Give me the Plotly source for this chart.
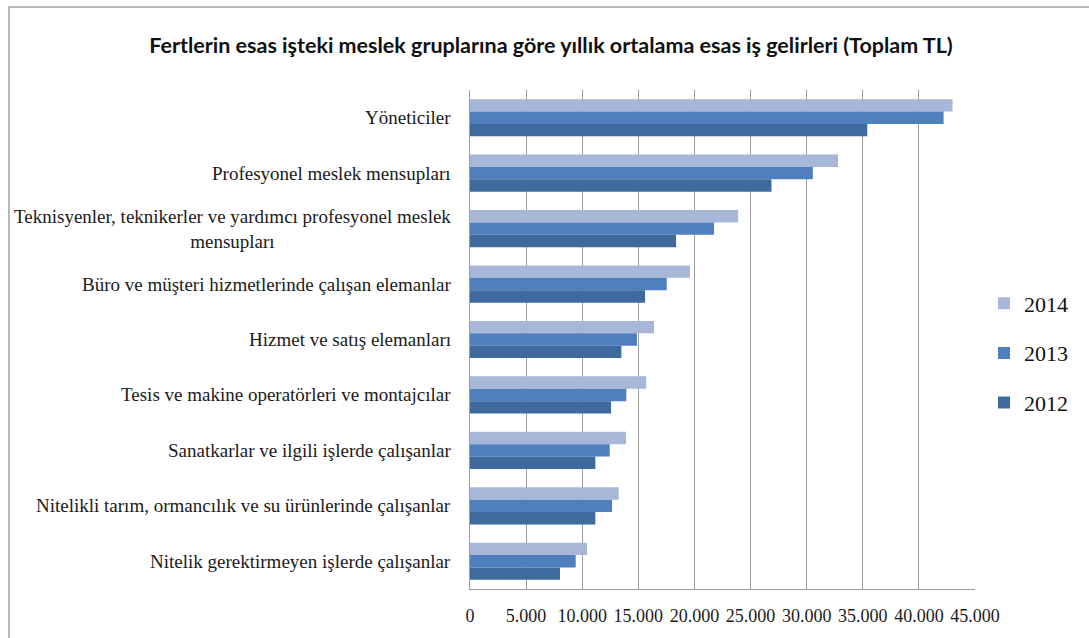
import plotly.graph_objects as go

categories = [
    "Yöneticiler",
    "Profesyonel meslek mensupları",
    "Teknisyenler, teknikerler ve yardımcı profesyonel meslek<br>mensupları",
    "Büro ve müşteri hizmetlerinde çalışan elemanlar",
    "Hizmet ve satış elemanları",
    "Tesis ve makine operatörleri ve montajcılar",
    "Sanatkarlar ve ilgili işlerde çalışanlar",
    "Nitelikli tarım, ormancılık ve su ürünlerinde çalışanlar",
    "Nitelik gerektirmeyen işlerde çalışanlar",
]
cat_keys = ["c%d" % i for i in range(len(categories))]

years = ["2014", "2013", "2012"]
values_2014 = [43000, 32800, 23900, 19600, 16400, 15700, 13900, 13250, 10430]
values_2013 = [42200, 30550, 21750, 17530, 14880, 13930, 12450, 12660, 9420]
values_2012 = [35400, 26860, 18360, 15600, 13490, 12570, 11170, 11170, 8020]
series = [values_2014, values_2013, values_2012]
colors = ["#A7B7D7", "#4F7FBD", "#3F6A9E"]

tick_vals = [0, 5000, 10000, 15000, 20000, 25000, 30000, 35000, 40000, 45000]
tick_text = ["0", "5.000", "10.000", "15.000", "20.000", "25.000", "30.000", "35.000", "40.000", "45.000"]

title_text = "Fertlerin esas işteki meslek gruplarına göre yıllık ortalama esas iş gelirleri (Toplam TL)"

W, H = 1089, 638
L, R, T, B = 470, 114, 90, 49
pw, ph = W - L - R, H - T - B

fig = go.Figure()
for name, vals, col in zip(years, series, colors):
    fig.add_trace(go.Bar(
        x=vals, y=cat_keys, orientation="h", name=name,
        marker=dict(color=col, line=dict(width=0)),
        legendgroup=name,
    ))

serif = "Liberation Serif, Times New Roman, serif"

annotations = []
for key, lab in zip(cat_keys, categories):
    annotations.append(dict(
        x=(453 - L) / pw, xref="paper", y=key, yref="y",
        text=lab, showarrow=False, xanchor="right", yanchor="middle",
        align="center", font=dict(family=serif, size=19, color="#1a1a1a"),
    ))

fig.update_layout(
    width=W, height=H,
    margin=dict(l=L, r=R, t=T, b=B),
    paper_bgcolor="white", plot_bgcolor="white",
    barmode="group", bargap=0.33, bargroupgap=0,
    title=dict(text="<b>" + title_text + "</b>", x=551 / W, xanchor="center",
               y=1 - 45 / H, yanchor="middle",
               font=dict(family="Lato, Carlito, Calibri, sans-serif", size=21.5, color="#111")),
    xaxis=dict(range=[0, 45000], tickvals=tick_vals, ticktext=tick_text,
               showgrid=True, gridcolor="#9c9c9c", gridwidth=1,
               showline=True, linecolor="#9c9c9c", linewidth=1,
               zeroline=False, ticks="", ticklabelstandoff=10,
               tickfont=dict(family=serif, size=18, color="#1a1a1a")),
    yaxis=dict(autorange="reversed", showticklabels=False, showgrid=False,
               showline=True, linecolor="#9c9c9c", linewidth=1, ticks="",
               zeroline=False),
    legend=dict(x=(984 - L) / pw, xanchor="left", y=(589 - 353) / ph, yanchor="middle",
                font=dict(family=serif, size=22, color="#111"),
                tracegroupgap=18, bgcolor="rgba(0,0,0,0)", borderwidth=0),
    annotations=annotations,
    shapes=[dict(type="rect", xref="paper", yref="paper",
                 x0=(9 - L) / pw, x1=(W + 10 - L) / pw,
                 y0=(589 - (H + 10)) / ph, y1=(589 - 7) / ph,
                 line=dict(color="#a0a0a0", width=1.5), fillcolor="rgba(0,0,0,0)")],
)

fig.write_html("out.html")
